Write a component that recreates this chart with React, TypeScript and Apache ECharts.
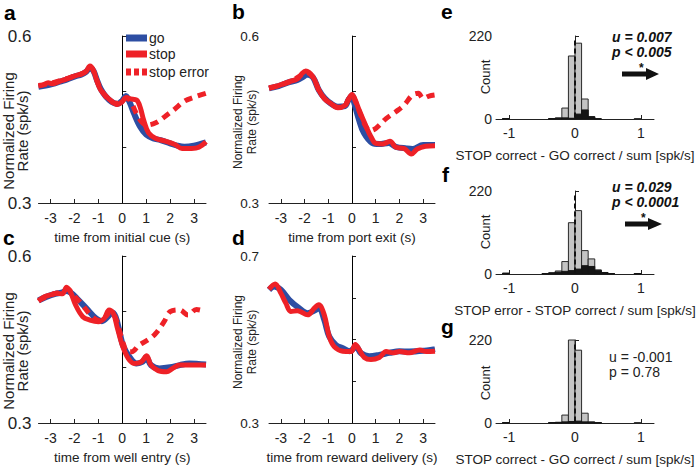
import React, { useEffect, useRef } from 'react';
import * as echarts from 'echarts';

const FONT = '"Liberation Sans", Arial, Helvetica, sans-serif';
const BLUE = '#2d4ea3';
const RED = '#ee2127';
const INK = '#222222';

const xTicks = [-3, -2, -1, 0, 1, 2, 3];
const histTicks = [-1, 0, 1];

// ---- panel a: time from initial cue ----
const aGo = [[-3.5,0.509],[-3.2,0.511],[-2.9,0.514],[-2.6,0.518],[-2.3,0.522],[-2.0,0.527],[-1.7,0.531],[-1.5,0.536],[-1.35,0.543],[-1.2,0.537],[-1.05,0.52],[-0.9,0.505],[-0.7,0.492],[-0.45,0.482],[-0.2,0.478],[0,0.484],[0.15,0.492],[0.3,0.482],[0.5,0.46],[0.75,0.437],[1.0,0.423],[1.3,0.416],[1.6,0.413],[2.0,0.407],[2.3,0.403],[2.6,0.401],[3.0,0.403],[3.5,0.409]];
const aStop = [[-3.5,0.510],[-3.3,0.512],[-3.1,0.516],[-2.9,0.514],[-2.6,0.519],[-2.3,0.523],[-2.0,0.528],[-1.7,0.532],[-1.5,0.537],[-1.35,0.546],[-1.2,0.538],[-1.05,0.518],[-0.9,0.503],[-0.7,0.493],[-0.45,0.483],[-0.2,0.477],[0,0.482],[0.15,0.489],[0.35,0.487],[0.6,0.485],[0.75,0.472],[0.9,0.448],[1.1,0.426],[1.4,0.416],[1.8,0.411],[2.2,0.405],[2.5,0.398],[2.9,0.398],[3.2,0.400],[3.5,0.410]];
const aErr = [[-3.5,0.511],[-3.0,0.515],[-2.5,0.521],[-2.0,0.528],[-1.7,0.532],[-1.5,0.537],[-1.35,0.545],[-1.2,0.537],[-1.0,0.514],[-0.8,0.498],[-0.5,0.483],[-0.2,0.479],[0,0.484],[0.2,0.489],[0.4,0.478],[0.6,0.46],[0.8,0.446],[1.0,0.440],[1.4,0.444],[1.8,0.456],[2.2,0.469],[2.6,0.483],[3.0,0.490],[3.5,0.497]];

// ---- panel b: time from port exit ----
const bGo = [[-3.5,0.506],[-3.1,0.510],[-2.65,0.517],[-2.3,0.521],[-2.05,0.527],[-1.9,0.531],[-1.65,0.526],[-1.4,0.503],[-1.15,0.488],[-0.9,0.479],[-0.6,0.473],[-0.3,0.474],[-0.15,0.485],[0,0.493],[0.1,0.479],[0.3,0.449],[0.5,0.426],[0.85,0.408],[1.15,0.406],[1.55,0.408],[1.85,0.401],[2.3,0.398],[2.55,0.397],[3.0,0.404],[3.5,0.404]];
const bStop = [[-3.5,0.506],[-3.1,0.511],[-2.65,0.518],[-2.3,0.523],[-2.1,0.533],[-1.95,0.537],[-1.65,0.527],[-1.4,0.503],[-1.15,0.487],[-0.9,0.479],[-0.6,0.471],[-0.3,0.475],[-0.15,0.486],[0,0.495],[0.1,0.489],[0.3,0.467],[0.6,0.437],[0.8,0.419],[1.0,0.407],[1.3,0.406],[1.6,0.411],[1.85,0.400],[2.2,0.398],[2.5,0.388],[2.75,0.397],[3.1,0.402],[3.5,0.403]];
const bErr = [[-3.5,0.507],[-3.0,0.512],[-2.5,0.52],[-2.1,0.531],[-1.95,0.535],[-1.65,0.526],[-1.4,0.503],[-1.15,0.487],[-0.9,0.479],[-0.6,0.472],[-0.3,0.475],[-0.15,0.486],[0,0.494],[0.15,0.482],[0.35,0.46],[0.55,0.44],[0.75,0.43],[1.0,0.434],[1.45,0.452],[1.85,0.464],[2.2,0.476],[2.55,0.494],[2.8,0.497],[3.0,0.488],[3.25,0.492],[3.5,0.494]];

// ---- panel c: time from well entry ----
const cGo = [[-3.5,0.520],[-3.15,0.527],[-2.8,0.532],[-2.55,0.534],[-2.35,0.537],[-2.15,0.534],[-1.9,0.524],[-1.5,0.506],[-1.1,0.488],[-0.85,0.483],[-0.6,0.491],[-0.45,0.499],[-0.28,0.491],[-0.1,0.461],[0.05,0.437],[0.3,0.419],[0.6,0.407],[0.85,0.410],[1.0,0.418],[1.2,0.404],[1.55,0.398],[2.0,0.400],[2.4,0.404],[2.8,0.407],[3.5,0.405]];
const cStop = [[-3.5,0.519],[-3.25,0.527],[-3.0,0.530],[-2.75,0.533],[-2.5,0.532],[-2.33,0.544],[-2.15,0.534],[-1.95,0.512],[-1.65,0.491],[-1.35,0.485],[-1.0,0.482],[-0.75,0.488],[-0.55,0.503],[-0.38,0.498],[-0.2,0.470],[0,0.440],[0.25,0.416],[0.5,0.407],[0.8,0.410],[1.02,0.421],[1.2,0.404],[1.5,0.394],[1.85,0.392],[2.1,0.398],[2.4,0.404],[2.8,0.404],[3.5,0.404]];
const cErr = [[-3.5,0.520],[-3.0,0.530],[-2.5,0.536],[-2.3,0.541],[-2.0,0.528],[-1.7,0.514],[-1.3,0.493],[-0.95,0.484],[-0.65,0.493],[-0.5,0.501],[-0.32,0.493],[-0.12,0.466],[0.05,0.442],[0.2,0.428],[0.4,0.428],[0.7,0.440],[1.1,0.450],[1.4,0.461],[1.75,0.482],[2.0,0.500],[2.4,0.503],[2.75,0.494],[3.1,0.504],[3.5,0.500]];

// ---- panel d: time from reward delivery ----
const dGo = [[-3.5,0.619],[-3.28,0.627],[-3.0,0.619],[-2.65,0.595],[-2.23,0.575],[-1.87,0.563],[-1.52,0.571],[-1.38,0.575],[-1.17,0.547],[-0.96,0.507],[-0.68,0.487],[-0.39,0.479],[-0.11,0.472],[0,0.475],[0.17,0.483],[0.38,0.467],[0.73,0.460],[1.15,0.463],[1.58,0.468],[2.0,0.472],[2.42,0.471],[3.0,0.473],[3.5,0.477]];
const dStop = [[-3.5,0.620],[-3.24,0.633],[-3.0,0.611],[-2.79,0.587],[-2.58,0.567],[-2.3,0.569],[-1.87,0.559],[-1.59,0.575],[-1.4,0.583],[-1.17,0.559],[-0.96,0.507],[-0.75,0.483],[-0.39,0.472],[-0.04,0.471],[0.14,0.488],[0.31,0.475],[0.52,0.457],[0.8,0.452],[1.15,0.457],[1.44,0.471],[1.72,0.468],[2.0,0.471],[2.42,0.468],[2.85,0.475],[3.13,0.471],[3.5,0.472]];

// ---- histograms (bin starts, width 0.1) ----
const binStarts = [-1.2,-1.1,-1.0,-0.9,-0.8,-0.7,-0.6,-0.5,-0.4,-0.3,-0.2,-0.1,0,0.1,0.2,0.3,0.4,0.5,0.6,0.7,0.8,0.9,1.0,1.1];
const binWidth = 0.1;
const eAll = [0,1,0,0,0,0,0,0,1,3,29,167,201,53,6,0,0,0,0,0,0,1,0,0];
const eSub = [0,1,0,0,0,0,0,0,1,2,3,2,13,24,6,1,0,0,0,0,0,0,0,0];
const fAll = [0,2,0,0,0,0,0,1,3,8,33,136,168,62,40,11,4,1,0,0,0,1,0,0];
const fSub = [0,2,0,0,0,0,0,1,3,5,7,9,13,22,20,9,4,1,0,0,0,1,0,0];
const gAll = [0,1,0,0,0,0,0,0,1,2,21,220,193,26,3,1,0,0,0,0,0,1,0,0];
const gSub = [0,1,0,0,0,0,0,0,1,1,3,4,5,3,2,1,0,0,0,0,0,0,0,0];

const linePanels = [
  { grid: { left: 38.5, top: 36, width: 167.5, height: 167 }, ymin: 0.3, ymax: 0.6, yTicks: [0.3, 0.4, 0.5, 0.6], xName: 'time from initial cue (s)', go: aGo, stop: aStop, err: aErr, big: true },
  { grid: { left: 269, top: 36, width: 166, height: 167 }, ymin: 0.3, ymax: 0.6, yTicks: [0.3, 0.4, 0.5, 0.6], xName: 'time from port exit (s)', go: bGo, stop: bStop, err: bErr, big: false },
  { grid: { left: 38.5, top: 256, width: 167.5, height: 167 }, ymin: 0.3, ymax: 0.6, yTicks: [0.3, 0.4, 0.5, 0.6], xName: 'time from well entry (s)', go: cGo, stop: cStop, err: cErr, big: true },
  { grid: { left: 269, top: 256, width: 166, height: 167 }, ymin: 0.3, ymax: 0.7, yTicks: [0.3, 0.4, 0.5, 0.6, 0.7], xName: 'time from reward delivery (s)', go: dGo, stop: dStop, err: null, big: false },
];

const histPanels = [
  { grid: { left: 496, top: 36, width: 158, height: 83 }, all: eAll, sub: eSub, xName: 'STOP correct - GO correct / sum [spk/s]' },
  { grid: { left: 496, top: 191, width: 158, height: 83 }, all: fAll, sub: fSub, xName: 'STOP error - STOP correct / sum [spk/s]' },
  { grid: { left: 496, top: 340, width: 158, height: 83 }, all: gAll, sub: gSub, xName: 'STOP correct - GO correct / sum [spk/s]' },
];

function binData(counts: number[]) {
  const out: number[][] = [];
  counts.forEach((c, i) => {
    if (c > 0) out.push([binStarts[i], binStarts[i] + binWidth, c]);
  });
  return out;
}

function histRender(fill: string, stroke: string) {
  return (params: any, api: any) => {
    const p0 = api.coord([api.value(0), api.value(2)]);
    const p1 = api.coord([api.value(1), 0]);
    return {
      type: 'rect',
      shape: { x: p0[0], y: p0[1], width: p1[0] - p0[0], height: p1[1] - p0[1] },
      style: { fill, stroke, lineWidth: 1 },
    };
  };
}

function buildOption() {
  const grid: any[] = [];
  const xAxis: any[] = [];
  const yAxis: any[] = [];
  const series: any[] = [];
  const graphic: any[] = [];

  const axisCommon = {
    axisLine: { show: true, lineStyle: { color: INK, width: 1 } },
    splitLine: { show: false },
  };

  linePanels.forEach((p, i) => {
    grid.push({ ...p.grid, containLabel: false });
    xAxis.push({
      gridIndex: i, type: 'value', min: -3.5, max: 3.5, ...axisCommon,
      axisTick: { show: true, inside: true, length: 4, customValues: xTicks, lineStyle: { color: INK } },
      axisLabel: { show: true, customValues: xTicks, color: INK, fontSize: 14, fontFamily: FONT, margin: 8, formatter: (v: number) => String(v) },
      name: p.xName, nameLocation: 'middle', nameGap: 27,
      nameTextStyle: { color: INK, fontSize: 13.5, fontFamily: FONT },
    });
    yAxis.push({
      gridIndex: i, type: 'value', min: p.ymin, max: p.ymax, ...axisCommon,
      axisTick: { show: true, inside: true, length: 4, customValues: p.yTicks, lineStyle: { color: INK } },
      axisLabel: { show: true, customValues: [p.ymin, p.ymax], color: INK, fontSize: p.big ? 17 : 13.5, fontFamily: FONT, margin: p.big ? 7 : 10, formatter: (v: number) => v.toFixed(1) },
    });
    series.push({
      type: 'line', xAxisIndex: i, yAxisIndex: i, data: p.go, showSymbol: false, symbol: 'none', smooth: 0.35,
      lineStyle: { color: BLUE, width: 6 }, z: 2, silent: true,
      markLine: { silent: true, symbol: ['none', 'none'], label: { show: false }, lineStyle: { color: '#000', width: 1, type: 'solid' }, data: [{ xAxis: 0 }], z: 1 },
    });
    series.push({
      type: 'line', xAxisIndex: i, yAxisIndex: i, data: p.stop, showSymbol: false, symbol: 'none', smooth: 0.35,
      lineStyle: { color: RED, width: 5 }, z: 3, silent: true,
    });
    if (p.err) {
      series.push({
        type: 'line', xAxisIndex: i, yAxisIndex: i, data: p.err, showSymbol: false, symbol: 'none', smooth: 0.35,
        lineStyle: { color: RED, width: 5, type: [8, 6] }, z: 4, silent: true,
      });
    }
  });

  histPanels.forEach((p, k) => {
    const i = linePanels.length + k;
    grid.push({ ...p.grid, containLabel: false });
    xAxis.push({
      gridIndex: i, type: 'value', min: -1.2, max: 1.2, ...axisCommon,
      axisTick: { show: true, inside: true, length: 4, customValues: histTicks, lineStyle: { color: INK } },
      axisLabel: { show: true, customValues: histTicks, color: INK, fontSize: 14, fontFamily: FONT, margin: 7, formatter: (v: number) => String(v) },
      name: p.xName, nameLocation: 'middle', nameGap: 29,
      nameTextStyle: { color: INK, fontSize: 13.5, fontFamily: FONT },
    });
    yAxis.push({
      gridIndex: i, type: 'value', min: 0, max: 220, ...axisCommon,
      axisTick: { show: true, inside: true, length: 4, customValues: [0, 220], lineStyle: { color: INK } },
      axisLabel: { show: true, customValues: [0, 220], color: INK, fontSize: 14, fontFamily: FONT, margin: 4 },
    });
    series.push({
      type: 'custom', xAxisIndex: i, yAxisIndex: i, data: binData(p.all), renderItem: histRender('#c4c4c4', '#2a2a2a'),
      encode: { x: [0, 1], y: 2 }, z: 2, silent: true,
    });
    series.push({
      type: 'custom', xAxisIndex: i, yAxisIndex: i, data: binData(p.sub), renderItem: histRender('#151515', '#151515'),
      encode: { x: [0, 1], y: 2 }, z: 3, silent: true,
    });
    series.push({
      type: 'line', xAxisIndex: i, yAxisIndex: i, data: [[0, 4], [0, 216]], showSymbol: false, symbol: 'none',
      lineStyle: { color: '#111', width: 2, type: [5, 3] }, z: 5, silent: true,
    });
  });

  const txt = (text: string, x: number, y: number, extra: any = {}) => ({
    type: 'text', x, y, silent: true,
    style: { text, fill: INK, font: `14px ${FONT}`, textAlign: 'left', textVerticalAlign: 'middle', ...extra },
  });

  // panel letters
  [['a', 4, 12], ['b', 232, 11], ['c', 3, 237], ['d', 232, 237], ['e', 441, 11], ['f', 442, 174], ['g', 441, 326]].forEach(([t, x, y]) => {
    graphic.push(txt(t as string, x as number, y as number, { font: `bold 21px ${FONT}`, fill: '#000' }));
  });

  // y axis names
  [[15, 131, 15], [244.5, 122, 12], [15, 351, 15], [244.5, 342, 12]].forEach(([x, y, fs]) => {
    graphic.push({
      type: 'text', x, y, rotation: Math.PI / 2, silent: true,
      style: { text: 'Normalized Firing\nRate (spk/s)', fill: INK, font: `${fs}px ${FONT}`, textAlign: 'center', textVerticalAlign: 'middle', lineHeight: 14 },
    });
  });
  [[485, 77], [485, 232], [485, 383]].forEach(([x, y]) => {
    graphic.push({
      type: 'text', x, y, rotation: Math.PI / 2, silent: true,
      style: { text: 'Count', fill: INK, font: `13px ${FONT}`, textAlign: 'center', textVerticalAlign: 'middle' },
    });
  });

  // legend (panel a)
  graphic.push({ type: 'rect', shape: { x: 126, y: 34.5, width: 21, height: 7 }, style: { fill: BLUE }, silent: true });
  graphic.push({ type: 'rect', shape: { x: 126, y: 50.5, width: 21, height: 7 }, style: { fill: RED }, silent: true });
  [126, 134, 142].forEach((x) => graphic.push({ type: 'rect', shape: { x, y: 68.5, width: 5, height: 7 }, style: { fill: RED }, silent: true }));
  graphic.push(txt('go', 149, 38));
  graphic.push(txt('stop', 149, 54));
  graphic.push(txt('stop error', 149, 72));

  // stats
  const bi = { font: `italic bold 14px ${FONT}`, fill: '#111' };
  graphic.push(txt('u = 0.007', 612, 36.5, bi));
  graphic.push(txt('p < 0.005', 612, 52, bi));
  graphic.push(txt('u = 0.029', 612, 186.5, bi));
  graphic.push(txt('p < 0.0001', 612, 202, bi));
  graphic.push(txt('u = -0.001', 609, 357));
  graphic.push(txt('p = 0.78', 609, 372));

  // arrows + asterisks
  const arrow = (x0: number, xm: number, x1: number, y: number) => ({
    type: 'polygon', silent: true,
    shape: { points: [[x0, y - 2.5], [xm, y - 2.5], [xm, y - 6], [x1, y], [xm, y + 6], [xm, y + 2.5], [x0, y + 2.5]] },
    style: { fill: '#111' },
  });
  graphic.push(arrow(622, 646, 659, 74));
  graphic.push(arrow(625, 648, 662, 224));
  graphic.push(txt('*', 639, 61.5, { font: `bold 12px ${FONT}`, fill: '#111', textVerticalAlign: 'top' }));
  graphic.push(txt('*', 641, 211.5, { font: `bold 12px ${FONT}`, fill: '#111', textVerticalAlign: 'top' }));

  return {
    animation: false,
    backgroundColor: '#ffffff',
    textStyle: { fontFamily: FONT },
    grid, xAxis, yAxis, series, graphic,
  };
}

export default function App() {
  const ref = useRef<HTMLDivElement>(null);
  useEffect(() => {
    if (!ref.current) return;
    const chart = echarts.init(ref.current, undefined, { renderer: 'svg' });
    chart.setOption(buildOption() as any);
    return () => chart.dispose();
  }, []);
  return <div ref={ref} style={{ position: 'absolute', left: 0, top: 0, width: 700, height: 467, background: '#fff' }} />;
}
